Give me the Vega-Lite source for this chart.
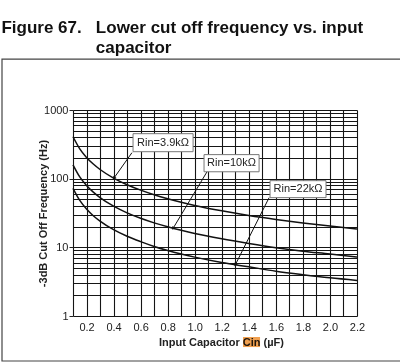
{
  "$schema": "https://vega.github.io/schema/vega-lite/v6.json",
  "width": 284,
  "height": 206,
  "autosize": {"type": "none"},
  "padding": {"left": 73, "top": 110, "right": 43, "bottom": 47},
  "background": "white",
  "title": {
    "text": ["Figure 67.\u00a0\u00a0\u00a0Lower cut off frequency vs. input", "\u200b\u00a0\u00a0\u00a0\u00a0\u00a0\u00a0\u00a0\u00a0\u00a0\u00a0\u00a0\u00a0\u00a0\u00a0\u00a0\u00a0\u00a0\u00a0\u00a0\u00a0capacitor"],
    "anchor": "start",
    "frame": "bounds",
    "font": "Liberation Sans",
    "fontSize": 17,
    "fontWeight": "bold",
    "color": "#111",
    "lineHeight": 20,
    "offset": 1
  },
  "config": {
    "view": {"stroke": null},
    "font": "Liberation Sans"
  },
  "datasets": {
    "curves": [
      {"c": 0.1, "f": 408.1, "r": "3.9k"}, {"c": 0.15, "f": 272.1, "r": "3.9k"}, {"c": 0.2, "f": 204.0, "r": "3.9k"}, {"c": 0.25, "f": 163.2, "r": "3.9k"}, {"c": 0.3, "f": 136.0, "r": "3.9k"}, {"c": 0.4, "f": 102.0, "r": "3.9k"}, {"c": 0.5, "f": 81.6, "r": "3.9k"}, {"c": 0.6, "f": 68.0, "r": "3.9k"}, {"c": 0.7, "f": 58.3, "r": "3.9k"}, {"c": 0.8, "f": 51.0, "r": "3.9k"}, {"c": 0.9, "f": 45.3, "r": "3.9k"}, {"c": 1.0, "f": 40.8, "r": "3.9k"}, {"c": 1.2, "f": 34.0, "r": "3.9k"}, {"c": 1.4, "f": 29.1, "r": "3.9k"}, {"c": 1.6, "f": 25.5, "r": "3.9k"}, {"c": 1.8, "f": 22.7, "r": "3.9k"}, {"c": 2.0, "f": 20.4, "r": "3.9k"}, {"c": 2.2, "f": 18.5, "r": "3.9k"},
      {"c": 0.1, "f": 159.2, "r": "10k"}, {"c": 0.15, "f": 106.1, "r": "10k"}, {"c": 0.2, "f": 79.6, "r": "10k"}, {"c": 0.25, "f": 63.7, "r": "10k"}, {"c": 0.3, "f": 53.1, "r": "10k"}, {"c": 0.4, "f": 39.8, "r": "10k"}, {"c": 0.5, "f": 31.8, "r": "10k"}, {"c": 0.6, "f": 26.5, "r": "10k"}, {"c": 0.7, "f": 22.7, "r": "10k"}, {"c": 0.8, "f": 19.9, "r": "10k"}, {"c": 0.9, "f": 17.7, "r": "10k"}, {"c": 1.0, "f": 15.9, "r": "10k"}, {"c": 1.2, "f": 13.3, "r": "10k"}, {"c": 1.4, "f": 11.4, "r": "10k"}, {"c": 1.6, "f": 9.9, "r": "10k"}, {"c": 1.8, "f": 8.8, "r": "10k"}, {"c": 2.0, "f": 8.0, "r": "10k"}, {"c": 2.2, "f": 7.2, "r": "10k"},
      {"c": 0.1, "f": 72.3, "r": "22k"}, {"c": 0.15, "f": 48.2, "r": "22k"}, {"c": 0.2, "f": 36.2, "r": "22k"}, {"c": 0.25, "f": 28.9, "r": "22k"}, {"c": 0.3, "f": 24.1, "r": "22k"}, {"c": 0.4, "f": 18.1, "r": "22k"}, {"c": 0.5, "f": 14.5, "r": "22k"}, {"c": 0.6, "f": 12.1, "r": "22k"}, {"c": 0.7, "f": 10.3, "r": "22k"}, {"c": 0.8, "f": 9.0, "r": "22k"}, {"c": 0.9, "f": 8.0, "r": "22k"}, {"c": 1.0, "f": 7.2, "r": "22k"}, {"c": 1.2, "f": 6.0, "r": "22k"}, {"c": 1.4, "f": 5.2, "r": "22k"}, {"c": 1.6, "f": 4.5, "r": "22k"}, {"c": 1.8, "f": 4.0, "r": "22k"}, {"c": 2.0, "f": 3.6, "r": "22k"}, {"c": 2.2, "f": 3.3, "r": "22k"}
    ],
    "labels": [
      {"label": "Rin=3.9k\u03a9", "x1": 0.544, "x2": 0.988, "y1": 247, "y2": 452, "xm": 0.766, "ym": 334},
      {"label": "Rin=10k\u03a9", "x1": 1.069, "x2": 1.476, "y1": 126, "y2": 224, "xm": 1.272, "ym": 168},
      {"label": "Rin=22k\u03a9", "x1": 1.557, "x2": 1.971, "y1": 52.9, "y2": 93.5, "xm": 1.764, "ym": 70.3}
    ],
    "leaders": [
      {"id": "a", "c": 0.536, "f": 239, "tip": false}, {"id": "a", "c": 0.403, "f": 102, "tip": true},
      {"id": "b", "c": 1.091, "f": 126, "tip": false}, {"id": "b", "c": 0.84, "f": 18.9, "tip": true},
      {"id": "c", "c": 1.55, "f": 52.9, "tip": false}, {"id": "c", "c": 1.3, "f": 5.56, "tip": true}
    ],
    "frame": [{"x1": -0.425, "x2": 2.7, "y1": 0.221, "y2": 5524}],
    "hl": [{"x1": 1.357, "x2": 1.483, "y1": 0.353, "y2": 0.495}]
  },
  "layer": [
    {
      "data": {"name": "curves"},
      "mark": {"type": "line", "color": "#111", "strokeWidth": 1.5, "interpolate": "monotone"},
      "encoding": {
        "x": {"field": "c", "type": "quantitative", "scale": {"domain": [0.1, 2.2], "nice": false, "zero": false},
          "axis": {
            "tickCount": 22,
            "labelExpr": "(round(datum.value * 10) % 2) == 0 ? format(datum.value, '.1f') : ''",
            "labelFlush": false, "labelOverlap": false,
            "grid": true, "gridColor": "#151515", "gridWidth": 1.1, "gridOpacity": 1,
            "domain": false, "ticks": false, "labelPadding": 5, "labelFontSize": 11, "labelColor": "#222",
            "labelFont": "Liberation Sans",
            "title": "Input Capacitor Cin (\u00b5F)", "titleFontSize": 11, "titleFontWeight": "bold", "titleColor": "#222",
            "titleFont": "Liberation Sans", "titlePadding": 4, "titleX": 148
          }},
        "y": {"field": "f", "type": "quantitative", "scale": {"type": "log", "domain": [1, 1000], "nice": false},
          "axis": {
            "values": [1,2,3,4,5,6,7,8,9,10,20,30,40,50,60,70,80,90,100,200,300,400,500,600,700,800,900,1000],
            "labelExpr": "indexof([1,10,100,1000], datum.value) >= 0 ? format(datum.value,'d') : ''",
            "grid": true, "gridColor": "#151515", "gridWidth": 1.1, "gridOpacity": 1,
            "domain": false, "ticks": true, "tickSize": 4, "tickColor": "#222",
            "tickOpacity": {"condition": {"test": "indexof([1,10,100,1000], datum.value) >= 0", "value": 1}, "value": 0},
            "labelPadding": 1, "labelFontSize": 11, "labelColor": "#222",
            "labelFont": "Liberation Sans",
            "title": "-3dB Cut Off Frequency (Hz)", "titleFontSize": 11, "titleFontWeight": "bold", "titleColor": "#222",
            "titleFont": "Liberation Sans", "titlePadding": -5
          }},
        "detail": {"field": "r"}
      }
    },
    {
      "data": {"name": "frame"},
      "mark": {"type": "rect", "fill": null, "stroke": "#444", "strokeWidth": 1.2, "clip": false},
      "encoding": {
        "x": {"field": "x1", "type": "quantitative"},
        "x2": {"field": "x2"},
        "y": {"field": "y1", "type": "quantitative"},
        "y2": {"field": "y2"}
      }
    },
    {
      "data": {"name": "hl"},
      "mark": {"type": "rect", "fill": "#f0a050", "clip": false, "blend": "multiply"},
      "encoding": {
        "x": {"field": "x1", "type": "quantitative"},
        "x2": {"field": "x2"},
        "y": {"field": "y1", "type": "quantitative"},
        "y2": {"field": "y2"}
      }
    },
    {
      "data": {"name": "leaders"},
      "mark": {"type": "line", "color": "#111", "strokeWidth": 1},
      "encoding": {
        "x": {"field": "c", "type": "quantitative"},
        "y": {"field": "f", "type": "quantitative"},
        "detail": {"field": "id"}
      }
    },
    {
      "data": {"name": "leaders"},
      "transform": [{"filter": "datum.tip"}],
      "mark": {"type": "point", "shape": "triangle-up", "filled": true, "color": "#111", "size": 14, "angle": 212, "opacity": 1},
      "encoding": {
        "x": {"field": "c", "type": "quantitative"},
        "y": {"field": "f", "type": "quantitative"}
      }
    },
    {
      "data": {"name": "labels"},
      "mark": {"type": "rect", "fill": "white", "stroke": "#777", "strokeWidth": 1},
      "encoding": {
        "x": {"field": "x1", "type": "quantitative"},
        "x2": {"field": "x2"},
        "y": {"field": "y1", "type": "quantitative"},
        "y2": {"field": "y2"}
      }
    },
    {
      "data": {"name": "labels"},
      "mark": {"type": "text", "font": "Liberation Sans", "fontSize": 11, "color": "#222", "align": "center", "baseline": "middle"},
      "encoding": {
        "x": {"field": "xm", "type": "quantitative"},
        "y": {"field": "ym", "type": "quantitative"},
        "text": {"field": "label"}
      }
    }
  ]
}
